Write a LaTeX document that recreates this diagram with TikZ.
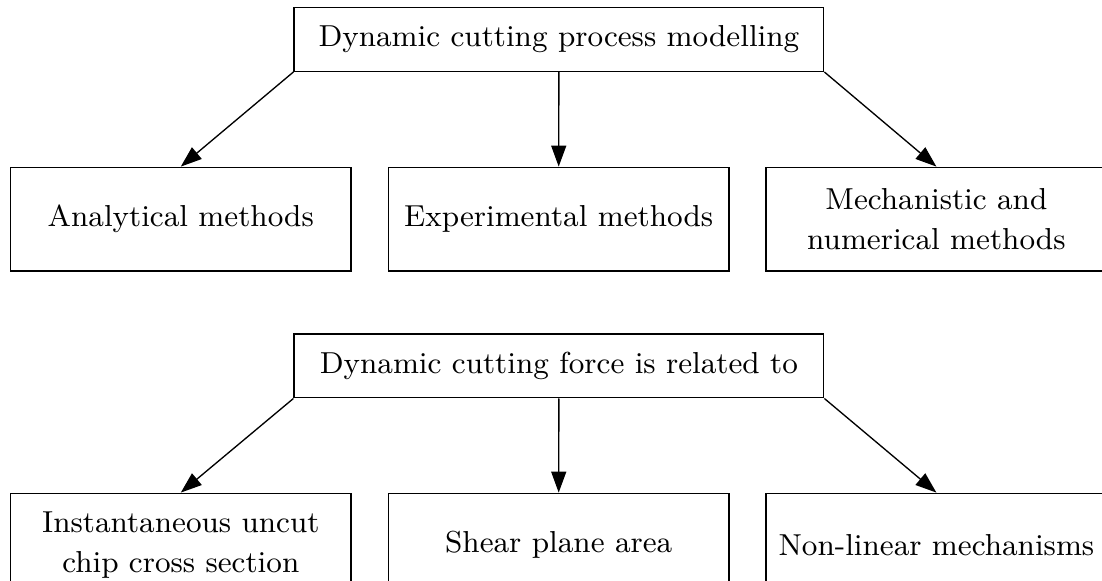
\documentclass[tikz,border=0pt]{standalone}
\usetikzlibrary{arrows.meta}
\begin{document}
\begin{tikzpicture}[x=0.3pt,y=-0.3pt,
  every node/.style={font=\fontsize{9.1pt}{11.8pt}\selectfont},
  rootbox/.style={draw,line width=0.4pt,minimum width=158.9pt,minimum height=19.1pt,inner sep=0pt,align=center},
  leafbox/.style={draw,line width=0.4pt,minimum width=102.2pt,minimum height=31.1pt,inner sep=0pt,align=center},
  link/.style={line width=0.4pt,-{Triangle[length=6.3pt,width=4.5pt]}}]
\clip (0,0) rectangle (1102,581);

% upper tree: modelling approaches
\node[rootbox] (model) at (558.9,39.5) {Dynamic cutting process modelling};
\node[leafbox] (anal) at (180.8,219.1) {Analytical methods};
\node[leafbox] (expe) at (558.7,219.1) {Experimental methods};
\node[leafbox] (mech) at (936.4,219.1) {Mechanistic and\\numerical methods};
\draw[link] (model.south west) -- (anal.north);
\draw[link] (model.south) -- (expe.north);
\draw[link] (model.south east) -- (mech.north);

% lower tree: what the dynamic force depends on
\node[rootbox] (force) at (558.9,366.0) {Dynamic cutting force is related to};
\node[leafbox] (chip) at (180.8,545.1) {Instantaneous uncut\\chip cross section};
\node[leafbox] (shear) at (558.7,545.1) {Shear plane area};
\node[leafbox] (nonlin) at (936.4,545.1) {Non-linear mechanisms};
\draw[link] (force.south west) -- (chip.north);
\draw[link] (force.south) -- (shear.north);
\draw[link] (force.south east) -- (nonlin.north);
\end{tikzpicture}
\end{document}
